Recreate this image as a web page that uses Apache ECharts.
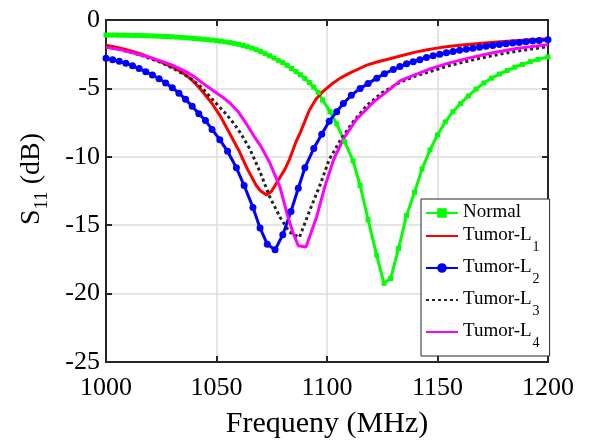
<!DOCTYPE html>
<html>
<head>
<meta charset="utf-8">
<script src="https://cdn.jsdelivr.net/npm/echarts@6/dist/echarts.min.js"></script>
<style>
html,body{margin:0;padding:0;background:#fff;}
#chart{width:589px;height:444px;}
</style>
</head>
<body>
<div id="chart"></div>
<script>
// ---- data ----
const seriesNames = ['Normal', 'Tumor-L1', 'Tumor-L2', 'Tumor-L3', 'Tumor-L4'];
const xTicks = [1000, 1050, 1100, 1150, 1200];
const yTicks = [-25, -20, -15, -10, -5, 0];

const freqNormal = [1000,1002,1004,1006,1008,1010,1012,1014,1016,1018,1020,1022,1024,1026,1028,1030,1032,1034,1036,1038,1040,1042,1044,1046,1048,1050,1052,1054,1056,1058,1060,1062,1064,1066,1068,1070,1072,1074,1076,1078,1080,1082,1084,1086,1088,1090,1092,1094,1096,1098,
  1101.4,1104.4,1108,1111.8,1115,1118.6,1122.5,1125.8,1128.8,1132.4,1136,1139.6,1143,1146.6,1150,1153.5,1157,1160.5,1164,1167.5,1171,1174.5,1178,1181.5,1185,1188.5,1192,1195.5,1200];
const s11Normal = [-1.10,-1.10,-1.10,-1.11,-1.11,-1.12,-1.13,-1.13,-1.14,-1.15,-1.16,-1.17,-1.18,-1.20,-1.21,-1.23,-1.25,-1.27,-1.30,-1.32,-1.35,-1.38,-1.41,-1.44,-1.47,-1.51,-1.55,-1.60,-1.65,-1.71,-1.78,-1.86,-1.95,-2.05,-2.17,-2.31,-2.46,-2.62,-2.78,-2.95,-3.12,-3.32,-3.54,-3.77,-4.00,-4.27,-4.57,-4.90,-5.30,-5.85,
  -6.7,-7.6,-8.9,-10.3,-12.1,-14.6,-17.2,-19.25,-18.9,-16.7,-14.3,-12.6,-10.9,-9.5,-8.4,-7.45,-6.7,-6.1,-5.55,-5.05,-4.6,-4.25,-3.95,-3.7,-3.45,-3.25,-3.05,-2.88,-2.7];

const freqL1 = [1000,1004,1008,1012,1016,1020,1024,1028,1032,1036,1040,1044,1048,1052,1056,1060,1064,1068,1070,1072.7,1075,1078,1081,1083,1086,1088,1092,1095,1098,1102,1106,1110,1114,1118,1123,1128,1134,1140,1146,1152,1160,1170,1180,1190,1200];
const s11L1 = [-1.85,-1.97,-2.12,-2.3,-2.5,-2.75,-3.0,-3.3,-3.6,-4.0,-4.55,-5.3,-6.1,-7.1,-8.3,-9.5,-10.9,-12.1,-12.5,-12.8,-12.5,-11.7,-10.9,-10.2,-8.9,-8.2,-6.6,-5.8,-5.25,-4.7,-4.25,-3.9,-3.6,-3.3,-3.05,-2.85,-2.6,-2.35,-2.15,-2.0,-1.85,-1.7,-1.57,-1.46,-1.37];

const freqL2 = [1000,1003,1006,1009,1012,1015,1018,1021,1024,1027,1030,1033,1036,1039,1042,1045,1048,1051.5,1055,1059,1062.5,1066.5,1069.7,1073,1076.5,1080,1083.7,1087,1090,1094,1097.6,1101,1104.4,1107.4,1111,1115,1118.6,1122.5,1126,1130,1133,1136,1139,1142,1145,1148,1151,1154,1157,1160,1163,1166,1169,1172,1175,1178,1181,1184,1187,1190,1193,1196,1200];
const s11L2 = [-2.8,-2.9,-3.02,-3.17,-3.35,-3.55,-3.78,-4.02,-4.3,-4.6,-4.95,-5.35,-5.8,-6.3,-6.85,-7.35,-8.0,-8.75,-9.6,-10.8,-12.1,-13.7,-15.2,-16.4,-16.8,-15.7,-14.0,-12.3,-10.8,-9.4,-8.35,-7.4,-6.7,-6.1,-5.5,-5.0,-4.65,-4.25,-3.92,-3.62,-3.4,-3.2,-3.05,-2.9,-2.75,-2.62,-2.5,-2.4,-2.3,-2.22,-2.14,-2.06,-1.99,-1.92,-1.86,-1.8,-1.74,-1.69,-1.64,-1.59,-1.54,-1.5,-1.45];

const freqL3 = [1000,1006,1012,1018,1024,1030,1035,1039,1043,1047,1051,1054.5,1058,1061,1065,1069.7,1074,1078.7,1083,1087.5,1092,1097,1101,1106,1112,1118,1125,1133,1140,1147,1155,1165,1175,1185,1200];
const s11L3 = [-1.95,-2.15,-2.4,-2.7,-3.05,-3.5,-3.95,-4.35,-4.9,-5.6,-6.3,-6.9,-7.6,-8.3,-9.4,-11.1,-12.9,-14.4,-15.5,-15.9,-14.0,-12.0,-10.2,-8.8,-7.4,-6.25,-5.3,-4.55,-4.1,-3.75,-3.35,-2.95,-2.6,-2.3,-1.95];

const freqL4 = [1000,1006,1012,1018,1024,1030,1036,1040,1044,1048,1052,1056,1060,1063.6,1067,1070,1074,1078.7,1082,1084.5,1087,1090.5,1095.3,1099,1103,1107.4,1113.4,1121,1128.5,1133,1140,1147,1155,1165,1175,1185,1200];
const s11L4 = [-2.0,-2.15,-2.4,-2.65,-2.95,-3.3,-3.75,-4.15,-4.65,-5.1,-5.55,-6.05,-6.75,-7.6,-8.5,-9.2,-10.4,-12.2,-14.2,-15.5,-16.5,-16.6,-14.4,-12.2,-10.2,-8.7,-7.25,-6.0,-5.05,-4.45,-4.0,-3.55,-3.15,-2.75,-2.4,-2.1,-1.8];

// ---- chart ----
const zip = (xs, ys) => xs.map((x, i) => [x, ys[i]]);
const FONT = '"Liberation Serif", "Times New Roman", serif';
const AX = '#262626';

const chart = echarts.init(document.getElementById('chart'), null, {renderer: 'canvas'});

const baseX = {
  type: 'value', min: xTicks[0], max: xTicks[xTicks.length - 1], interval: 50,
  axisLine: {show: true, onZero: false, lineStyle: {color: AX, width: 2}},
  axisTick: {show: true, inside: true, length: 6, lineStyle: {color: AX, width: 2}}
};
const baseY = {
  type: 'value', min: yTicks[0], max: yTicks[yTicks.length - 1], interval: 5,
  axisLine: {show: true, onZero: false, lineStyle: {color: AX, width: 2}},
  axisTick: {show: true, inside: true, length: 6, lineStyle: {color: AX, width: 2}}
};

const legendLabel = (name) => {
  const m = name.match(/^(Tumor-L)(\d)$/);
  return m ? '{b|' + m[1] + '}{s|' + m[2] + '}' : '{b|' + name + '}';
};

const lineOnly = {itemStyle: {opacity: 0}};

const option = {
  backgroundColor: '#fff',
  animation: false,
  grid: {left: 106, right: 41, top: 20, bottom: 77, containLabel: false},
  xAxis: [
    Object.assign({}, baseX, {
      position: 'bottom',
      splitLine: {show: true, lineStyle: {color: '#dcdcdc', width: 1.5}},
      axisLabel: {show: true, fontFamily: FONT, fontSize: 26, color: '#000', margin: 13,
                  formatter: (v) => String(v)},
      name: 'Frequeny (MHz)', nameLocation: 'middle', nameGap: 47,
      nameTextStyle: {fontFamily: FONT, fontSize: 30, color: '#000'}
    }),
    Object.assign({}, baseX, {
      position: 'top', splitLine: {show: false}, axisLabel: {show: false}
    })
  ],
  yAxis: [
    Object.assign({}, baseY, {
      position: 'left',
      splitLine: {show: true, lineStyle: {color: '#dcdcdc', width: 1.5}},
      axisLabel: {show: true, fontFamily: FONT, fontSize: 26, color: '#000', margin: 6},
      name: '{m|S}{s|11}{m| (dB)}', nameLocation: 'middle', nameGap: 60, nameRotate: 90,
      nameTextStyle: {
        fontFamily: FONT, fontSize: 28, color: '#000', padding: [0, 0, 0, 24],
        rich: {
          m: {fontFamily: FONT, fontSize: 28, color: '#000', lineHeight: 28, verticalAlign: 'top'},
          s: {fontFamily: FONT, fontSize: 19, color: '#000', lineHeight: 19, verticalAlign: 'top', padding: [15, 0, 0, 0]}
        }
      }
    }),
    Object.assign({}, baseY, {
      position: 'right', splitLine: {show: false}, axisLabel: {show: false}
    })
  ],
  legend: {
    orient: 'vertical', left: 421, top: 199,
    padding: [4, 10, 6, 4], itemGap: 4, itemWidth: 32, itemHeight: 12,
    backgroundColor: '#fff', borderColor: AX, borderWidth: 1,
    data: [
      {name: seriesNames[0]},
      Object.assign({name: seriesNames[1]}, lineOnly),
      {name: seriesNames[2]},
      Object.assign({name: seriesNames[3]}, lineOnly),
      Object.assign({name: seriesNames[4]}, lineOnly)
    ],
    formatter: legendLabel,
    textStyle: {
      fontFamily: FONT, fontSize: 19, color: '#000',
      rich: {
        b: {fontFamily: FONT, fontSize: 19, color: '#000', lineHeight: 20, verticalAlign: 'top'},
        s: {fontFamily: FONT, fontSize: 14, color: '#000', lineHeight: 14, verticalAlign: 'top', padding: [14, 0, 0, 1]}
      }
    }
  },
  series: [
    {name: seriesNames[0], type: 'line', data: zip(freqNormal, s11Normal),
     color: '#00ff00', lineStyle: {width: 3, color: '#00ff00'},
     symbol: 'rect', symbolSize: 5, showSymbol: true, itemStyle: {color: '#00ff00'}},
    {name: seriesNames[1], type: 'line', data: zip(freqL1, s11L1),
     color: '#ff0000', lineStyle: {width: 3, color: '#ff0000'}, symbol: 'none'},
    {name: seriesNames[2], type: 'line', data: zip(freqL2, s11L2),
     color: '#0000ff', lineStyle: {width: 3, color: '#0000ff'},
     symbol: 'circle', symbolSize: 7, showSymbol: true, itemStyle: {color: '#0000ff'}},
    {name: seriesNames[3], type: 'line', data: zip(freqL3, s11L3),
     color: '#262626', lineStyle: {width: 3, color: '#262626', type: [3, 3]}, symbol: 'none'},
    {name: seriesNames[4], type: 'line', data: zip(freqL4, s11L4),
     color: '#ff00ff', lineStyle: {width: 3, color: '#ff00ff'}, symbol: 'none'}
  ]
};
chart.setOption(option);
</script>
</body>
</html>
